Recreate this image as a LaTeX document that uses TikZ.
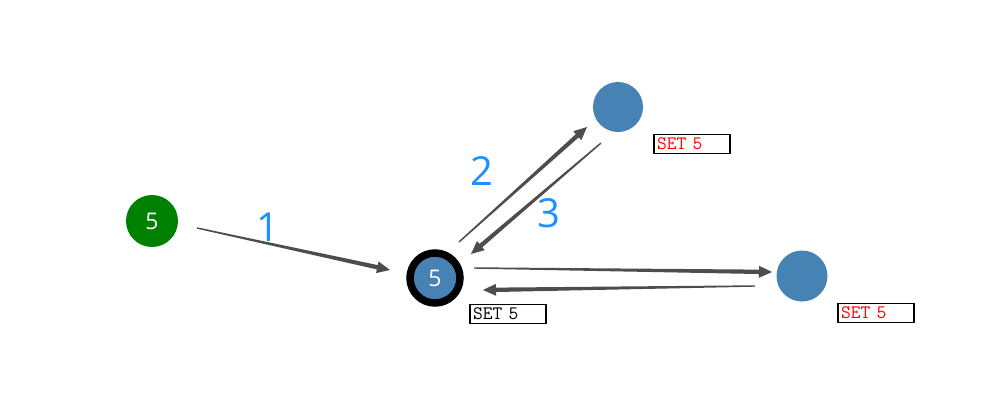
\documentclass[tikz,border=0pt]{standalone}
\usepackage{fontspec}
\setmainfont{Open Sans}
\usetikzlibrary{calc}
\definecolor{stblue}{HTML}{4682B4}
\definecolor{okgreen}{HTML}{008000}
\definecolor{arrgray}{HTML}{4D4D4D}
\definecolor{stepblue}{HTML}{1E90FF}
\tikzset{
  pt/.style={circle,minimum size=#1,inner sep=0pt,text=white,font=\fontsize{23}{25}\selectfont},
  cur/.style={pt=50pt,fill=stblue,draw=black,line width=7.5pt},
  msg/.style={draw=black,line width=1.3pt,minimum width=76pt,minimum height=19pt,inner sep=0pt,
    text width=70pt,align=left,font=\ttfamily\fontsize{19}{20}\selectfont},
  num/.style={text=stepblue,font=\fontsize{40}{42}\selectfont},
}
% tapered arrow from #1 to #2
\newcommand\taper[2]{%
  \fill[arrgray] ($(#1)!0.7pt!90:(#2)$) -- ($($(#2)!13pt!(#1)$)!2.2pt!-90:(#1)$)
    -- ($($(#2)!13pt!(#1)$)!6pt!-90:(#1)$) -- (#2)
    -- ($($(#2)!13pt!(#1)$)!6pt!90:(#1)$) -- ($($(#2)!13pt!(#1)$)!2.2pt!90:(#1)$)
    -- ($(#1)!0.7pt!-90:(#2)$) -- cycle;}

\begin{document}
\begin{tikzpicture}[x=1pt,y=-1pt]
\useasboundingbox (0,0) rectangle (1006,417);
\node[pt=52pt,fill=okgreen] (src) at (152,221){5};
\node[cur] (ctr) at (435,278){5};
\node[pt=50pt,fill=stblue] (top) at (618,107){};
\node[pt=51pt,fill=stblue] (rgt) at (802,276){};
\node[msg] (ctrset) at (508,314){SET 5};
\node[msg,text=red] (topset) at (692,144){SET 5};
\node[msg,text=red] (rgtset) at (876,313){SET 5};
\coordinate (e1s) at (197,228); \coordinate (e1t) at (390,270);
\coordinate (e2s) at (459,242); \coordinate (e2t) at (587,127);
\coordinate (e3s) at (601,143); \coordinate (e3t) at (471,254);
\coordinate (e4s) at (474,268); \coordinate (e4t) at (772,272);
\coordinate (e5s) at (755,286); \coordinate (e5t) at (483,290);
\taper{e1s}{e1t} \taper{e2s}{e2t} \taper{e3s}{e3t} \taper{e4s}{e4t} \taper{e5s}{e5t}
\node[num] (n1) at (268,227){1};
\node[num] (n2) at (482,171){2};
\node[num] (n3) at (549,213){3};
\end{tikzpicture}
\end{document}
